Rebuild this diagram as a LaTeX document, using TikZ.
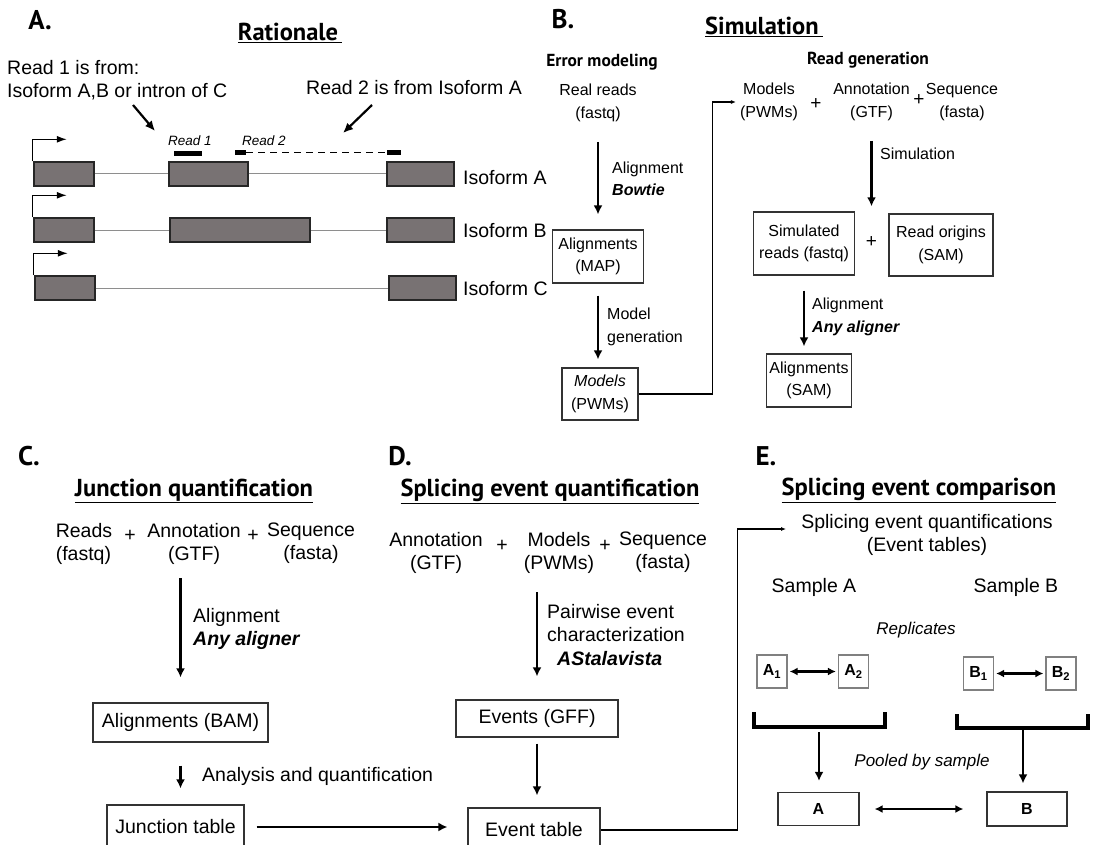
\documentclass[tikz,border=0pt]{standalone}
\usepackage{fontspec}
\setmainfont{Liberation Sans}
\newfontfamily\headfont{PT Sans}
\usetikzlibrary{arrows.meta, positioning, calc}
\definecolor{exonGray}{HTML}{787273}
\definecolor{intronGray}{HTML}{8E8E8E}
\definecolor{boxEdge}{HTML}{333333}
\newcommand{\headline}[1]{\underline{#1}}

\begin{document}
\begin{tikzpicture}[x=1pt, y=-1pt,
  panel/.style={font=\headfont\bfseries\fontsize{27}{27}\selectfont, inner sep=0pt},
  head/.style={font=\headfont\bfseries\fontsize{24.5}{24.5}\selectfont, inner sep=0pt},
  sub/.style={font=\headfont\bfseries\fontsize{17.4}{17.4}\selectfont, inner sep=0pt},
  txt/.style={font=\fontsize{19.5}{23.5}\selectfont, align=center, inner sep=1pt},
  txtB/.style={font=\fontsize{16}{22.5}\selectfont, align=center, inner sep=1pt},
  note/.style={font=\itshape\fontsize{17}{20}\selectfont, inner sep=1pt},
  box/.style={draw=boxEdge, line width=1.2pt, align=center, inner sep=0pt},
  rep/.style={draw=gray, line width=1.2pt, font=\bfseries\fontsize{16}{16}\selectfont,
    minimum width=30pt, minimum height=33pt, inner sep=0pt},
  exon/.style={draw=black!85, line width=1.4pt, fill=exonGray, minimum height=24pt, inner sep=0pt},
  intron/.style={draw=intronGray, line width=1pt},
  readbar/.style={fill=black, minimum height=5pt, inner sep=0pt},
  flow/.style={-{Latex[length=9pt,width=9pt]}, line width=2.2pt},
  biflow/.style={{Latex[length=8pt,width=8pt]}-{Latex[length=8pt,width=8pt]}, line width=2.2pt},
  link/.style={-{Latex[length=5pt,width=4pt]}, line width=1.1pt},
  pointer/.style={-{Latex[length=10pt,width=9pt]}, line width=2.2pt},
  tss/.style={-{Latex[length=10pt,width=7pt]}, line width=1.3pt},
  bracket/.style={line width=3.2pt}]

  \useasboundingbox (0,0) rectangle (1113,845);

  % A. Rationale
  \node[panel] (labA) at (40,20) {A.};
  \node[head] (headA) at (290,33) {\headline{Rationale\,}};
  \node[txt, align=left, anchor=west] (read1note) at (6,80) {Read 1 is from:\\Isoform A,B or intron of C};
  \node[txt, anchor=west] (read2note) at (305,88) {Read 2 is from Isoform A};
  \coordinate (r1from) at (133,105);
  \coordinate (r1to) at (155,131);
  \coordinate (r2from) at (372,105);
  \coordinate (r2to) at (343,133);
  \draw[pointer] (r1from) -- (r1to);
  \draw[pointer] (r2from) -- (r2to);

  \node[note, font=\itshape\fontsize{13.5}{14}\selectfont] (read1lbl) at (190,141) {Read 1};
  \node[note, font=\itshape\fontsize{13.5}{14}\selectfont] (read2lbl) at (264,141) {Read 2};
  \node[readbar, minimum width=28pt] (read1bar) at (188,153.5) {};
  \node[readbar, minimum width=11pt] (read2l) at (240.5,152.5) {};
  \node[readbar, minimum width=14pt] (read2r) at (394,152.5) {};
  \draw[line width=1.3pt, dash pattern=on 7pt off 5pt] (read2l) -- (read2r);

  \node[exon, minimum width=60pt] (exA1) at (64,174) {};
  \node[exon, minimum width=79pt] (exA2) at (208.5,174) {};
  \node[exon, minimum width=67pt] (exA3) at (420.5,174) {};
  \draw[intron] (exA1) -- (exA2);
  \draw[intron] (exA2) -- (exA3);
  \draw[tss] ([xshift=-0.5pt]exA1.north west) -- ++(0,-22) -- ++(34,0);
  \node[txt, anchor=west] (isoA) at (462,178) {Isoform A};

  \node[exon, minimum width=60pt] (exB1) at (64,230) {};
  \node[exon, minimum width=140pt] (exB2) at (240,230) {};
  \node[exon, minimum width=67pt] (exB3) at (420.5,230) {};
  \draw[intron] (exB1) -- (exB2);
  \draw[intron] (exB2) -- (exB3);
  \draw[tss] ([xshift=-0.5pt]exB1.north west) -- ++(0,-22) -- ++(34,0);
  \node[txt, anchor=west] (isoB) at (462,231) {Isoform B};

  \node[exon, minimum width=60pt] (exC1) at (65,288) {};
  \node[exon, minimum width=67pt] (exC3) at (422.5,288) {};
  \draw[intron] (exC1) -- (exC3);
  \draw[tss] ([xshift=-0.5pt]exC1.north west) -- ++(0,-22) -- ++(34,0);
  \node[txt, anchor=west] (isoC) at (462,289) {Isoform C};

  % B. Simulation
  \node[panel] (labB) at (563,19) {B.};
  \node[head] (headB) at (764,27) {\headline{Simulation\,}};
  \node[sub] (errmod) at (602,62) {Error modeling};
  \node[txtB] (realreads) at (598,103) {Real reads\\(fastq)};
  \node[box, txtB, minimum width=91pt, minimum height=53pt] (mapaln) at (598,256.5) {Alignments\\(MAP)};
  \node[box, txtB, minimum width=76pt, minimum height=52pt] (pwms) at (600,394) {\textit{Models}\\(PWMs)};
  \draw[flow, shorten <=19pt, shorten >=15pt] (realreads) -- (mapaln);
  \node[txtB, align=left, anchor=west] (bowtielbl) at (611,179) {Alignment\\\textbf{\textit{Bowtie}}};
  \draw[flow, shorten <=12pt, shorten >=8pt] (mapaln.south) -- (mapaln.south |- pwms.north);
  \node[txtB, align=left, anchor=west] (modgenlbl) at (606,327) {Model\\generation};

  \node[sub] (readgen) at (868,60) {Read generation};
  \node[txtB] (simmodels) at (769,102) {Models\\(PWMs)};
  \node[txtB, font=\fontsize{19}{19}\selectfont] (plusB1) at (816,104) {+};
  \node[txtB] (simannot) at (871.5,102) {Annotation\\(GTF)};
  \node[txtB, font=\fontsize{19}{19}\selectfont] (plusB2) at (919,100) {+};
  \node[txtB] (simseq) at (962,102) {Sequence\\(fasta)};
  \draw[link, shorten >=3pt] (pwms.east) -| ([xshift=-26pt]simmodels.west) -- (simmodels.west);

  \node[txtB, font=\fontsize{19}{19}\selectfont] (plusSim) at (871.5,242) {+};
  \draw[flow, shorten <=19pt, shorten >=29pt] (simannot) -- (plusSim);
  \node[txtB, anchor=west] (simlbl) at (879,154) {Simulation};
  \node[box, txtB, minimum width=101pt, minimum height=63pt] (simreads) at (804,243.5) {Simulated\\reads (fastq)};
  \node[box, txtB, minimum width=104pt, minimum height=62pt] (readorig) at (941,245) {Read origins\\(SAM)};
  \node[box, txtB, minimum width=85pt, minimum height=53pt] (samaln) at (809,380.5) {Alignments\\(SAM)};
  \draw[flow, shorten <=15pt, shorten >=7pt] (simreads.south) -- (simreads.south |- samaln.north);
  \node[txtB, align=left, anchor=west] (anyalnB) at (811,317) {Alignment\\\textbf{\textit{Any aligner}}};

  % C. Junction quantification
  \node[panel] (labC) at (29,456) {C.};
  \node[head] (headC) at (194,491) {\headline{Junction quantification}};
  \node[txt, align=left] (jreads) at (84,544) {Reads\\(fastq)};
  \node[txt] (plusC1) at (130,536) {+};
  \node[txt] (jannot) at (194,544) {Annotation\\(GTF)};
  \node[txt] (plusC2) at (253,536) {+};
  \node[txt] (jseq) at (311,543) {Sequence\\(fasta)};
  \node[box, txt, minimum width=175pt, minimum height=39pt] (jbam) at (180.5,722.5) {Alignments (BAM)};
  \draw[flow, shorten <=12pt, shorten >=25pt] (jannot.south -| jbam.north) -- (jbam.north);
  \node[txt, align=left, anchor=west] (anyalnC) at (192,629) {Alignment\\\textbf{\textit{Any aligner}}};
  \node[box, txt, minimum width=137pt, minimum height=44pt] (jtable) at (175.5,827) {Junction table};
  \draw[flow, shorten <=23pt, shorten >=16pt] (jbam.south) -- (jbam.south |- jtable.north);
  \node[txt, anchor=west] (analysislbl) at (201,776) {Analysis and quantification};

  % D. Splicing event quantification
  \node[panel] (labD) at (400,456) {D.};
  \node[head] (headD) at (550,491) {\headline{Splicing event quantification}};
  \node[txt] (dannot) at (436,553) {Annotation\\(GTF)};
  \node[txt] (plusD1) at (502,546) {+};
  \node[txt] (dmodels) at (559,553) {Models\\(PWMs)};
  \node[txt] (plusD2) at (605,546) {+};
  \node[txt] (dseq) at (663,552) {Sequence\\(fasta)};
  \node[box, txt, minimum width=162pt, minimum height=37pt] (dgff) at (537,718.5) {Events (GFF)};
  \draw[flow, shorten <=17pt, shorten >=23pt] (dmodels.south -| dgff.north) -- (dgff.north);
  \node[txt, align=left, anchor=west] (astalbl) at (546,635) {Pairwise event\\characterization\\\hspace*{10pt}\textbf{\textit{AStalavista}}};
  \node[box, txt, minimum width=132pt, minimum height=44pt] (evtable) at (534,830) {Event table};
  \draw[flow, shorten <=6pt, shorten >=12pt] (dgff.south) -- (dgff.south |- evtable.north);
  \draw[flow, shorten <=12pt, shorten >=20pt] (jtable.east) -- (jtable.east -| evtable.west);

  % E. Splicing event comparison
  \node[panel] (labE) at (766,456) {E.};
  \node[head] (headE) at (919,490) {\headline{Splicing event comparison}};
  \node[txt] (equant) at (927,535) {Splicing event quantifications\\(Event tables)};
  \coordinate (equantin) at ($(equant.west)+(-14,-6)$);
  \draw[link] (evtable.east) -| ($(equantin)+(-49,0)$) -- (equantin);
  \node[txt] (sampA) at (814,587) {Sample A};
  \node[txt] (sampB) at (1016,587) {Sample B};
  \node[note] (replbl) at (916,630) {Replicates};
  \node[rep] (repA1) at (772,671.5) {A\textsubscript{1}};
  \node[rep] (repA2) at (853.5,671.5) {A\textsubscript{2}};
  \node[rep] (repB1) at (978.5,673.5) {B\textsubscript{1}};
  \node[rep] (repB2) at (1061,673.5) {B\textsubscript{2}};
  \draw[biflow, shorten <=2pt, shorten >=2pt] (repA1) -- (repA2);
  \draw[biflow, shorten <=2pt, shorten >=2pt] (repB1) -- (repB2);

  \coordinate (brAl) at (754,712);
  \coordinate (brAr) at (885,712);
  \coordinate (brAmid) at (819,727);
  \draw[bracket] (brAl) |- ($(brAr)+(0,15)$) -- (brAr);
  \coordinate (brBl) at (957,714);
  \coordinate (brBr) at (1088,714);
  \coordinate (brBmid) at (1023,728);
  \draw[bracket] (brBl) |- ($(brBr)+(0,14)$) -- (brBr);

  \node[box, minimum width=81pt, minimum height=33pt, font=\bfseries\fontsize{16}{16}\selectfont] (poolA) at (818.5,809) {A};
  \node[box, minimum width=80pt, minimum height=34pt, font=\bfseries\fontsize{16}{16}\selectfont] (poolB) at (1027,809) {B};
  \draw[flow, shorten <=5pt, shorten >=11pt] (brAmid) -- (brAmid |- poolA.north);
  \draw[flow, shorten >=8pt] (brBmid) -- (brBmid |- poolB.north);
  \node[note] (poollbl) at (922,762) {Pooled by sample};
  \draw[biflow, shorten <=15pt, shorten >=23pt] (poolA) -- (poolB);
\end{tikzpicture}
\end{document}
